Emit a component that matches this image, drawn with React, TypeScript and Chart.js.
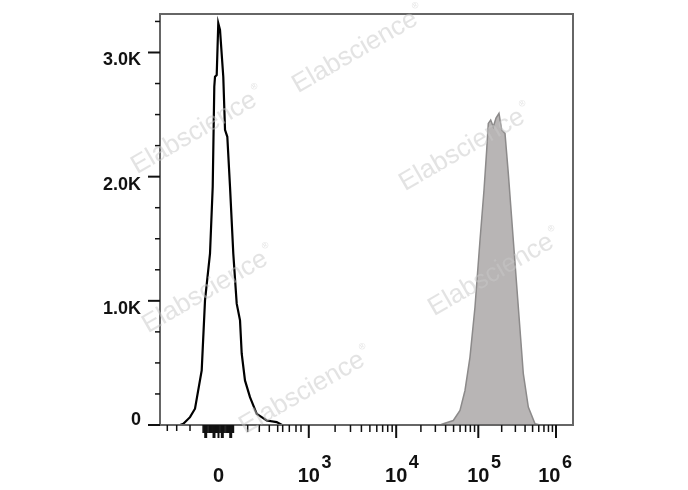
import React, { useEffect, useRef } from "react";
import { Chart, registerables } from "chart.js";

Chart.register(...registerables);

// x values are display channels (0–1024 across the biexponential axis), y values are event counts
const BLACK_X = [49.6, 57.8, 74.4, 86.8, 103.4, 111.6, 124.0, 130.7, 134.6, 136.4, 140.6, 144.5, 148.8, 156.9, 161.2, 166.9, 173.6, 181.7, 190.2, 198.4, 202.6, 210.7, 223.1, 239.8, 264.6, 289.3, 302.5];
const BLACK_Y = [0, 10, 63, 131, 440, 1004, 1381, 1918, 2724, 2805, 2819, 3235, 3181, 2805, 2377, 2321, 1918, 1381, 977, 843, 574, 359, 224, 90, 36, 23, 0];

const GRAY_X = [694.2, 702.4, 727.2, 743.8, 756.2, 768.6, 781.0, 793.4, 803.3, 810.0, 814.0, 819.9, 826.4, 833.1, 840.5, 847.2, 855.4, 863.6, 876.0, 888.4, 900.8, 913.2, 929.8, 942.2];
const GRAY_Y = [0, 10, 36, 117, 278, 547, 950, 1488, 1891, 2214, 2429, 2456, 2402, 2472, 2510, 2375, 2348, 2026, 1488, 950, 413, 144, 10, 0];

// x axis ticks (channels) and labels
const X_MAJOR_TICKS = [145.0, 368.9, 585.6, 789.2, 981.8];
const X_TICK_BASE = ["0", "10", "10", "10", "10"];
const X_TICK_EXP = ["", "3", "4", "5", "6"];
const X_NEG_MINOR = [18.1, 41.4, 74.4];
const X_ZERO_LONG = [113.3, 133.9, 154.5, 175.3];
const X_ZERO_SHORT = [107, 110, 113, 116, 119, 122, 125, 128, 131, 134, 137, 140, 143, 146, 149, 152, 155, 158, 161, 164, 167, 170, 173, 176, 179, 182];
const X_LOW_MINOR = [217.4, 246.2, 271.0, 291.8, 304.2, 320.6, 337.2, 349.6];
const DECADE_MINOR_MULT = [2, 3, 4, 5, 6, 7, 8, 9];

// y axis ticks
const Y_TICKS = [0, 1000, 2000, 3000];
const Y_TICK_LABELS = ["0", "1.0K", "2.0K", "3.0K"];
const Y_MINOR_STEP = 250;
const Y_MAX = 3310;
const X_MAX = 1024;

const WATERMARK = "Elabscience";

const FONT = '"Liberation Sans", Arial, Helvetica, sans-serif';

export default function App() {
  const ref = useRef<HTMLCanvasElement>(null);

  useEffect(() => {
    const canvas = ref.current;
    if (!canvas) return;

    const decor = {
      id: "decor",
      afterDraw(chart: any) {
        const { ctx, chartArea: a, scales } = chart;
        const xs = scales.x;
        const ys = scales.y;
        ctx.save();

        // frame
        ctx.strokeStyle = "#666";
        ctx.lineWidth = 2;
        ctx.strokeRect(a.left, a.top, a.right - a.left, a.bottom - a.top);

        // y ticks
        ctx.strokeStyle = "#111";
        for (let v = Y_MINOR_STEP; v <= Y_MAX; v += Y_MINOR_STEP) {
          if (v % 1000 === 0) continue;
          const y = ys.getPixelForValue(v);
          ctx.lineWidth = 1.5;
          ctx.beginPath();
          ctx.moveTo(a.left - 5, y);
          ctx.lineTo(a.left, y);
          ctx.stroke();
        }
        ctx.font = `bold 18px ${FONT}`;
        ctx.fillStyle = "#111";
        ctx.textAlign = "right";
        ctx.textBaseline = "alphabetic";
        Y_TICKS.forEach((v, i) => {
          const y = ys.getPixelForValue(v);
          ctx.lineWidth = 2;
          ctx.beginPath();
          ctx.moveTo(a.left - 12, y);
          ctx.lineTo(a.left, y);
          ctx.stroke();
          const by = v === 0 ? y - 0.5 : y + 13;
          ctx.fillText(Y_TICK_LABELS[i], a.left - 19, by);
        });

        // x ticks
        const xt = (c: number, len: number, w: number) => {
          const x = xs.getPixelForValue(c);
          ctx.lineWidth = w;
          ctx.beginPath();
          ctx.moveTo(x, a.bottom);
          ctx.lineTo(x, a.bottom + len);
          ctx.stroke();
        };
        X_NEG_MINOR.forEach((c) => xt(c, 6, 1.5));
        X_ZERO_SHORT.forEach((c) => xt(c, 8, 1.6));
        X_ZERO_LONG.forEach((c) => xt(c, 13, 3));
        X_LOW_MINOR.forEach((c) => xt(c, 7, 1.5));
        for (let i = 1; i < X_MAJOR_TICKS.length - 1; i++) {
          const c0 = X_MAJOR_TICKS[i];
          const c1 = X_MAJOR_TICKS[i + 1];
          DECADE_MINOR_MULT.forEach((m) => xt(c0 + (c1 - c0) * Math.log10(m), 7, 1.5));
        }
        X_MAJOR_TICKS.forEach((c) => xt(c, 13, 2));

        // x labels
        ctx.textAlign = "left";
        ctx.textBaseline = "alphabetic";
        X_MAJOR_TICKS.forEach((c, i) => {
          const x = xs.getPixelForValue(c);
          ctx.font = `bold 20px ${FONT}`;
          const base = X_TICK_BASE[i];
          const bw = ctx.measureText(base).width;
          const exp = X_TICK_EXP[i];
          ctx.font = `bold 18px ${FONT}`;
          const ew = exp ? ctx.measureText(exp).width : 0;
          let left = x - bw / 2;
          const rightEnd = left + bw + (exp ? 1.5 + ew : 0);
          if (rightEnd > a.right - 1) left -= rightEnd - (a.right - 1);
          ctx.font = `bold 20px ${FONT}`;
          ctx.fillText(base, left, 482);
          if (exp) {
            ctx.font = `bold 18px ${FONT}`;
            ctx.fillText(exp, left + bw + 1.5, 468);
          }
        });

        // watermarks
        const marks = [
          [355, 52],
          [194, 133],
          [462, 150],
          [205, 292],
          [491, 275],
          [302, 393],
        ];
        ctx.fillStyle = "rgba(200,200,200,0.5)";
        marks.forEach(([cx, cy]) => {
          ctx.save();
          ctx.translate(cx, cy);
          ctx.rotate((-30 * Math.PI) / 180);
          ctx.font = `26px ${FONT}`;
          ctx.textAlign = "center";
          ctx.textBaseline = "middle";
          const w = ctx.measureText(WATERMARK).width;
          ctx.fillText(WATERMARK, 0, 0);
          ctx.font = `9px ${FONT}`;
          ctx.textAlign = "left";
          ctx.fillText("®", w / 2 + 2, -10);
          ctx.restore();
        });

        ctx.restore();
      },
    };

    const chart = new Chart(canvas, {
      type: "line",
      data: {
        datasets: [
          {
            label: "Stained",
            data: GRAY_X.map((x, i) => ({ x, y: GRAY_Y[i] })),
            borderColor: "#8c8a8a",
            backgroundColor: "#b8b5b5",
            borderWidth: 1.5,
            fill: "origin",
            pointRadius: 0,
            tension: 0,
          },
          {
            label: "Control",
            data: BLACK_X.map((x, i) => ({ x, y: BLACK_Y[i] })),
            borderColor: "#000",
            borderWidth: 2.2,
            fill: false,
            pointRadius: 0,
            tension: 0,
          },
        ],
      },
      options: {
        responsive: false,
        animation: false,
        devicePixelRatio: 1,
        layout: { padding: { left: 160, right: 115, top: 14, bottom: 65 } },
        plugins: { legend: { display: false }, tooltip: { enabled: false } },
        scales: {
          x: { type: "linear", min: 0, max: X_MAX, display: false },
          y: { type: "linear", min: 0, max: Y_MAX, display: false },
        },
      },
      plugins: [decor],
    });

    return () => chart.destroy();
  }, []);

  return (
    <div style={{ position: "absolute", left: 0, top: 0, width: 688, height: 490, background: "#fff" }}>
      <canvas ref={ref} width={688} height={490} style={{ display: "block" }} />
    </div>
  );
}
